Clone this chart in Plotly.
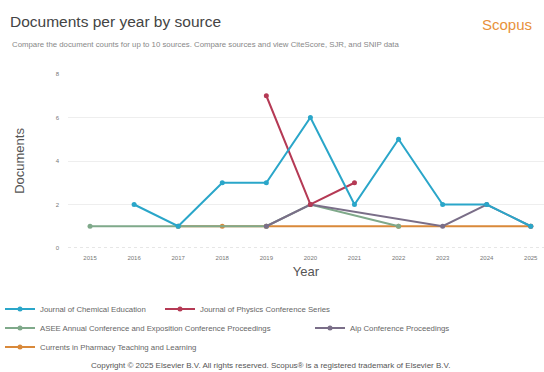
import plotly.graph_objects as go

years = [2015, 2016, 2017, 2018, 2019, 2020, 2021, 2022, 2023, 2024, 2025]

jce_years = [2016, 2017, 2018, 2019, 2020, 2021, 2022, 2023, 2024, 2025]
jce_vals = [2, 1, 3, 3, 6, 2, 5, 2, 2, 1]

jpcs_years = [2019, 2020, 2021]
jpcs_vals = [7, 2, 3]

asee_years = [2015, 2017, 2019, 2020, 2022]
asee_vals = [1, 1, 1, 2, 1]

aip_years = [2019, 2020, 2023, 2024, 2025]
aip_vals = [1, 2, 1, 2, 1]

cur_years = [2017, 2018, 2019, 2022, 2025]
cur_vals = [1, 1, 1, 1, 1]

series = [
    ("Journal of Chemical Education", jce_years, jce_vals, "#2aa6c9"),
    ("Journal of Physics Conference Series", jpcs_years, jpcs_vals, "#b53a55"),
    ("ASEE Annual Conference and Exposition Conference Proceedings", asee_years, asee_vals, "#7fa98a"),
    ("Aip Conference Proceedings", aip_years, aip_vals, "#7a6e88"),
    ("Currents in Pharmacy Teaching and Learning", cur_years, cur_vals, "#d9893a"),
]

W, H = 544, 372
# legend text start (px) and row centre (px)
legend_px = [(40, 309), (200, 309), (40, 328), (350, 328), (40, 347)]

FONT = "Liberation Sans"
fig = go.Figure()
order = [4, 2, 3, 1, 0]  # draw order so blue on top
for idx in order:
    name, xs, ys, col = series[idx]
    lg = "legend" if idx == 0 else f"legend{idx+1}"
    fig.add_trace(go.Scatter(
        x=xs, y=ys, mode="lines+markers", name=name,
        line=dict(color=col, width=2),
        marker=dict(color=col, size=5),
        legend=lg,
    ))

layout_legends = {}
for i, (tx, ty) in enumerate(legend_px):
    key = "legend" if i == 0 else f"legend{i+1}"
    layout_legends[key] = dict(
        x=(tx - 40) / W, y=1 - ty / H, xref="container", yref="container",
        xanchor="left", yanchor="middle",
        orientation="h", font=dict(family=FONT, size=7.8, color="#666"),
        bgcolor="rgba(0,0,0,0)", itemwidth=30, tracegroupgap=0,
    )

fig.update_layout(
    width=W, height=H,
    margin=dict(l=68, r=0, t=74, b=124),
    paper_bgcolor="white", plot_bgcolor="white",
    showlegend=True,
    **layout_legends,
    title=dict(text="Documents per year by source", x=10 / W, y=1 - 22 / H, xanchor="left",
               yanchor="middle", font=dict(family=FONT, size=15.5, color="#444")),
    xaxis=dict(
        range=[2014.5, 2025.3], tickmode="array", tickvals=years,
        ticktext=[str(y) for y in years],
        showgrid=False, zeroline=False, showline=False,
        tickfont=dict(family=FONT, size=6, color="#777"),
        ticks="", ticklabelstandoff=5,
        title=dict(text="Year", font=dict(family=FONT, size=13, color="#555"), standoff=6),
    ),
    yaxis=dict(
        range=[0, 8], tickvals=[0, 2, 4, 6, 8], showgrid=True,
        gridcolor="#eeeeee", gridwidth=1, zeroline=False, showline=False,
        tickfont=dict(family=FONT, size=6, color="#777"), ticks="",
        ticklabelstandoff=8,
        title=dict(text="Documents", font=dict(family=FONT, size=13, color="#555"), standoff=28),
    ),
)

pw = W - 68
ph = 248 - 74
def px_to_paper(px, py):
    return (px - 68) / pw, (248 - py) / ph

sx, sy = px_to_paper(10, 45)
fig.add_annotation(text="Compare the document counts for up to 10 sources. Compare sources and view CiteScore, SJR, and SNIP data",
                   xref="paper", yref="paper", x=sx, y=sy, xanchor="left", yanchor="middle",
                   showarrow=False, font=dict(family=FONT, size=7.8, color="#888"))
sx, sy = px_to_paper(534, 24)
fig.add_annotation(text="Scopus", xref="paper", yref="paper", x=sx, y=sy, xanchor="right", yanchor="middle",
                   showarrow=False, font=dict(family=FONT, size=15, color="#e8913a"))
sx, sy = px_to_paper(270, 365)
fig.add_annotation(text="Copyright © 2025 Elsevier B.V. All rights reserved. Scopus® is a registered trademark of Elsevier B.V.",
                   xref="paper", yref="paper", x=sx, y=sy, xanchor="center", yanchor="middle",
                   showarrow=False, font=dict(family=FONT, size=8, color="#555"))

fig.add_shape(type="line", xref="paper", yref="y", x0=0, x1=1, y0=0, y1=0,
              line=dict(color="#cccccc", width=1, dash="dot"), layer="below")

fig.write_html("out.html")
